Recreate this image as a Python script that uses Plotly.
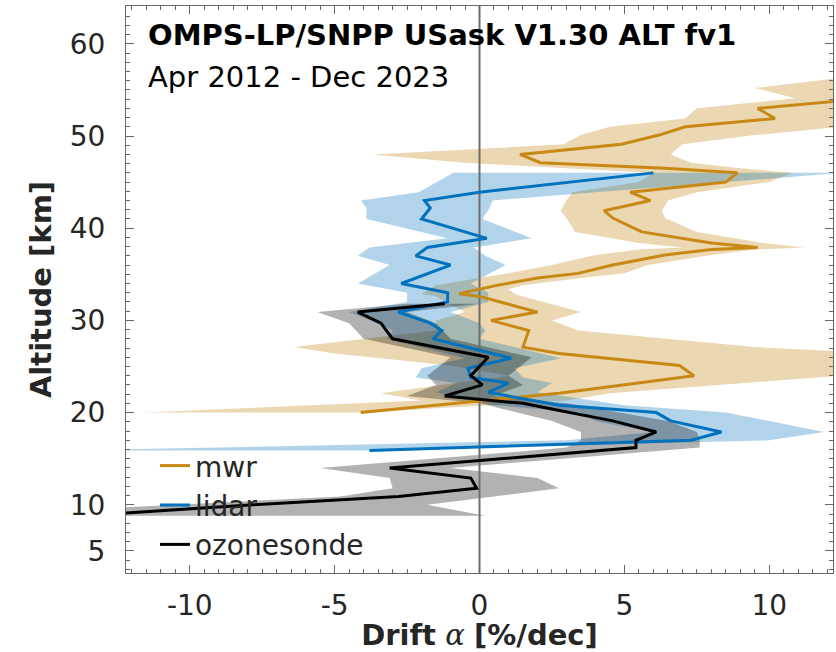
import plotly.graph_objects as go

# ---------------- data ----------------
# MWR
mwr_alt = [20.0, 21.3, 22.1, 24.0, 25.1, 26.4, 27.1, 28.9, 30.0, 30.9, 32.6, 32.9, 33.4, 33.8,
           34.6, 35.1, 36.0, 37.1, 37.7, 37.9, 38.4, 39.6, 41.1, 41.9, 43.0, 43.9, 45.0, 46.0,
           46.5, 47.1, 48.0, 49.1, 50.1, 51.0, 51.9, 53.0, 54.1, 55.2, 56.5]
mwr_mean = [-4.1, 0.0, 2.75, 7.4, 6.9, 2.75, 1.5, 1.7, 0.4, 2.0, 0.0, -0.7, 0.0, 0.6,
            2.0, 3.4, 4.6, 6.4, 8.0, 9.6, 8.0, 5.6, 4.6, 4.3, 5.9, 5.2, 8.5, 8.9,
            6.4, 2.1, 1.4, 4.9, 6.2, 7.1, 10.2, 9.6, 13.5, 14.5, 16.0]
mwr_lo = [-11.6, -2.0, -3.4, 1.0, -1.0, -5.0, -6.4, -1.5, -1.5, -0.5, -1.5, -2.0, -1.7, -1.5,
          0.0, 1.0, 2.5, 4.0, 5.5, 7.0, 5.5, 3.3, 3.0, 2.8, 3.0, 3.2, 5.5, 6.0,
          3.0, -0.5, -3.7, 2.9, 3.5, 4.5, 7.1, 7.5, 10.9, 9.5, 13.0]
mwr_hi = [-4.0, 3.0, 4.5, 12.5, 14.0, 14.0, 9.5, 3.4, 2.5, 3.5, 1.5, 1.2, 1.0, 1.5,
          3.5, 5.0, 5.8, 8.0, 9.5, 11.2, 9.8, 7.5, 6.4, 6.3, 6.5, 7.5, 10.0, 10.8,
          9.0, 7.3, 6.6, 7.0, 9.5, 12.5, 14.0, 14.0, 18.0, 20.0, 20.0]

# lidar
lid_alt = [15.9, 17.0, 17.9, 19.1, 20.0, 20.8, 22.2, 23.2, 23.8, 24.8, 25.9, 28.0, 28.9, 29.7,
           30.9, 32.0, 33.0, 34.0, 36.0, 37.0, 37.9, 38.9, 41.0, 42.2, 43.0, 43.9, 46.0]
lid_mean = [-3.8, 7.3, 8.35, 6.6, 6.1, 2.75, 0.3, 1.0, -0.3, -0.4, 1.1, -1.6, -1.3, -1.7,
            -2.8, -1.1, -1.1, -2.7, -1.0, -2.2, -1.8, 0.25, -2.0, -1.7, -1.9, 0.0, 6.0]
lid_lo = [-14.0, 3.0, 6.0, 4.0, 3.5, 0.5, -1.5, -0.8, -2.2, -2.0, -0.5, -3.2, -3.0, -3.5,
          -4.5, -2.5, -2.5, -4.2, -3.1, -4.2, -3.8, -1.1, -3.9, -3.9, -4.1, -2.1, -0.9]
lid_hi = [-3.5, 10.0, 11.9, 10.0, 8.5, 5.0, 2.0, 2.5, 1.5, 1.2, 2.8, 0.0, 0.2, 0.0,
          -1.0, 0.3, 0.3, -0.3, 0.9, 0.2, -0.2, 1.8, 0.1, 0.35, 0.45, 4.0, 12.5]

# ozonesonde
oz_alt = [8.8, 10.0, 10.9, 11.8, 12.9, 14.0, 16.2, 17.0, 17.9, 19.1, 20.2, 21.0, 21.8, 23.0,
          24.0, 26.0, 28.0, 29.7, 30.9, 31.8]
oz_mean = [-13.8, -7.8, -2.8, -0.1, -0.3, -3.1, 5.4, 5.4, 6.1, 4.6, 2.8, 1.5, -1.2, 0.1,
           -0.3, 0.3, -3.0, -3.4, -4.2, -1.2]
oz_lo = [-18.0, -10.5, -4.8, -3.0, -3.1, -5.5, 3.0, 3.5, 3.5, 2.5, 1.0, 0.0, -2.5, -1.5,
         -1.8, -1.0, -4.0, -4.5, -5.6, -2.5]
oz_hi = [0.2, -1.8, 0.5, 2.75, 2.0, -1.0, 7.6, 7.6, 7.5, 6.5, 4.5, 3.0, 0.5, 1.5,
         1.0, 1.8, -1.0, -1.5, -2.5, 0.0]

x_range = [-12.2, 12.2]
y_range = [2.6, 64.1]
x_ticks = [-10, -5, 0, 5, 10]
x_ticktext = ["-10", "-5", "0", "5", "10"]
y_ticks = [5, 10, 20, 30, 40, 50, 60]

series = [
    ("mwr", mwr_alt, mwr_mean, mwr_lo, mwr_hi, "rgb(200,136,20)", "rgba(200,145,40,0.36)"),
    ("lidar", lid_alt, lid_mean, lid_lo, lid_hi, "rgb(0,114,189)", "rgba(0,114,189,0.30)"),
    ("ozonesonde", oz_alt, oz_mean, oz_lo, oz_hi, "rgb(0,0,0)", "rgba(0,0,0,0.30)"),
]

FONT = "DejaVu Sans"
TXT = "#262626"

fig = go.Figure()

# uncertainty bands
for name, alt, mean, lo, hi, lc, fc in series:
    fig.add_trace(go.Scatter(
        x=list(lo) + list(hi)[::-1], y=list(alt) + list(alt)[::-1],
        fill="toself", fillcolor=fc, mode="lines", line=dict(width=0),
        hoverinfo="skip", showlegend=False))

# zero line
fig.add_trace(go.Scatter(x=[0, 0], y=y_range, mode="lines",
                         line=dict(color="rgb(110,110,110)", width=2),
                         hoverinfo="skip", showlegend=False))

# drift profiles
for name, alt, mean, lo, hi, lc, fc in series:
    fig.add_trace(go.Scatter(x=mean, y=alt, mode="lines", name=name,
                             line=dict(color=lc, width=3)))

axis_common = dict(
    showline=True, linecolor="#666666", linewidth=1, mirror="allticks",
    ticks="inside", ticklen=8, tickcolor="#666666", tickwidth=1,
    showgrid=False, zeroline=False,
    tickfont=dict(family=FONT, size=28, color=TXT),
)

fig.update_layout(
    width=836, height=652,
    margin=dict(l=126, r=3, t=6, b=79),
    paper_bgcolor="white", plot_bgcolor="white",
    font=dict(family=FONT, size=28, color=TXT),
    xaxis=dict(range=x_range, tickvals=x_ticks, ticktext=x_ticktext, ticklabelstandoff=7,
               minor=dict(dtick=0.5, tick0=0, ticks="inside", ticklen=4, tickcolor="#666666"),
               title=dict(text="<b>Drift</b> <span style='font-family:DejaVu Serif'><i>α</i></span> <b>[%/dec]</b>",
                          font=dict(family=FONT, size=29, color=TXT), standoff=2),
               **axis_common),
    yaxis=dict(range=y_range, tickvals=y_ticks, ticklabelstandoff=14,
               minor=dict(dtick=1, tick0=0, ticks="inside", ticklen=4, tickcolor="#666666"),
               title=dict(text="<b>Altitude [km]</b>",
                          font=dict(family=FONT, size=29, color=TXT), standoff=9),
               **axis_common),
    legend=dict(x=0.041, y=0.233, xanchor="left", yanchor="top",
                bgcolor="rgba(0,0,0,0)", borderwidth=0,
                font=dict(family=FONT, size=28, color=TXT),
                tracegroupgap=0),
    annotations=[
        dict(text="<b>OMPS-LP/SNPP USask V1.30 ALT fv1</b>", xref="paper", yref="paper",
             x=0.028, y=0.949, xanchor="left", yanchor="middle", showarrow=False,
             font=dict(family=FONT, size=29, color="black")),
        dict(text="Apr 2012 - Dec 2023", xref="paper", yref="paper",
             x=0.028, y=0.875, xanchor="left", yanchor="middle", showarrow=False,
             font=dict(family=FONT, size=29, color="black")),
    ],
)

fig.write_html("out.html")
